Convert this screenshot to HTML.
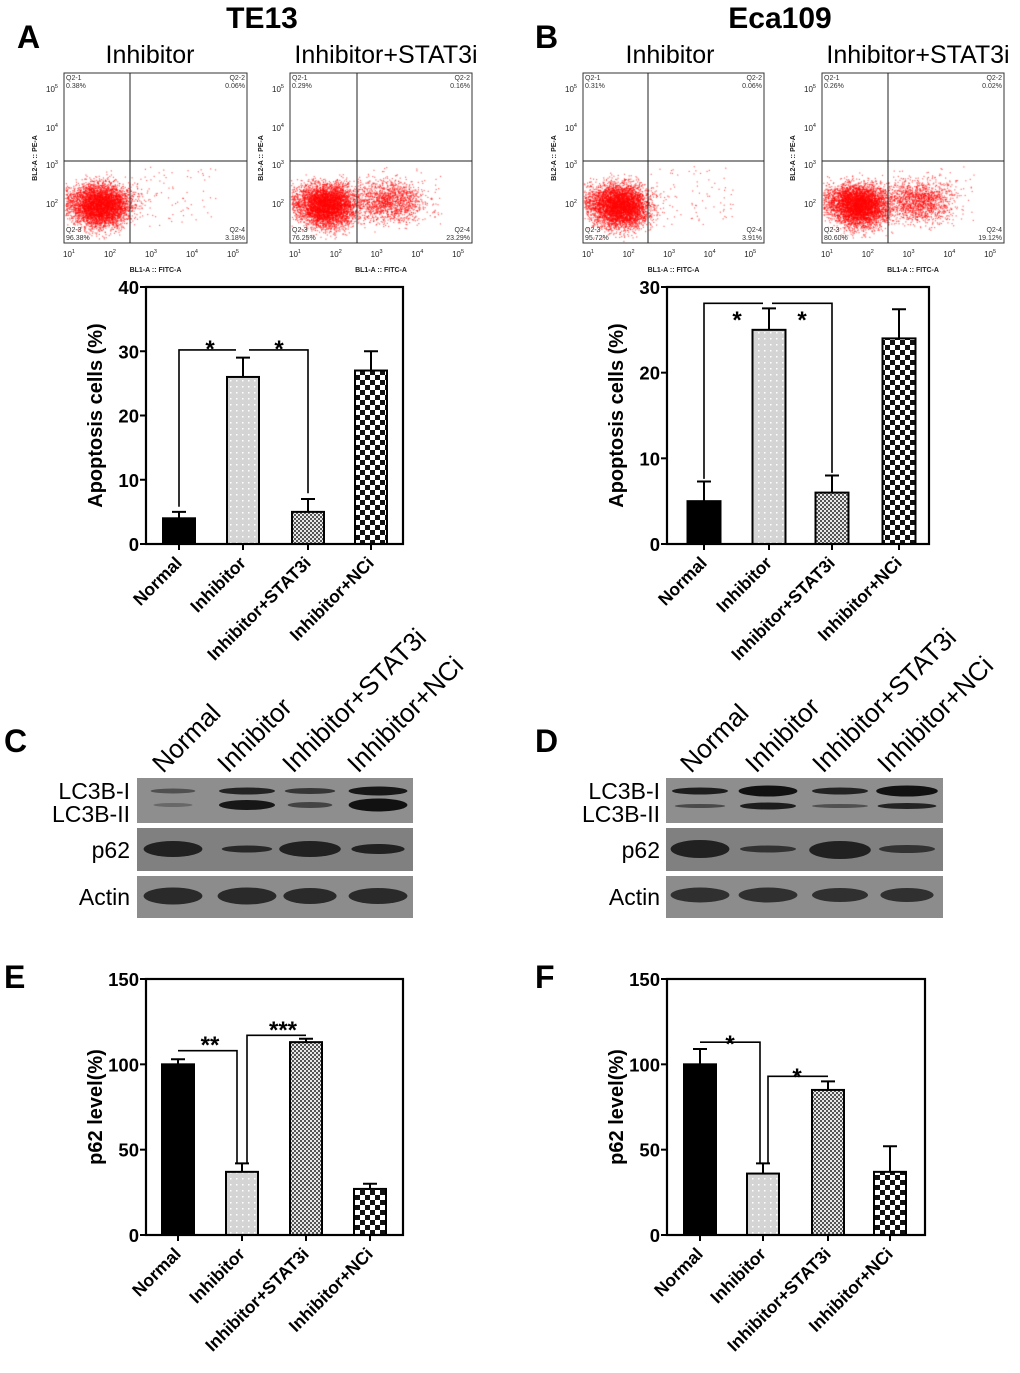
<!DOCTYPE html>
<html><head><meta charset="utf-8">
<style>
body{margin:0;background:#fff;}
#root{position:relative;width:1020px;height:1373px;overflow:hidden;font-family:"Liberation Sans",Arial,sans-serif;}
svg{position:absolute;left:0;top:0;}
canvas{position:absolute;}
</style></head>
<body>
<div id="root">
<canvas id="flowCanvas" width="1020" height="290" style="left:0;top:0"></canvas>
<svg id="fig" width="1020" height="1373" viewBox="0 0 1020 1373">
<defs>
<pattern id="pDots" width="6" height="6" patternUnits="userSpaceOnUse"><rect width="6" height="6" fill="#d4d4d4"/><rect x="2" y="2" width="1.5" height="1.5" fill="#fff"/></pattern>
<pattern id="pFine" width="4" height="4" patternUnits="userSpaceOnUse"><rect width="4" height="4" fill="#e8e8e8"/><rect width="2" height="2" fill="#555"/><rect x="2" y="2" width="2" height="2" fill="#555"/></pattern>
<pattern id="pCheck" width="10" height="10" patternUnits="userSpaceOnUse"><rect width="10" height="10" fill="#fff"/><rect width="5" height="5" fill="#111"/><rect x="5" y="5" width="5" height="5" fill="#111"/></pattern>
</defs>
</svg>
</div>
<script>
// ===== chart data =====
const categories = ["Normal","Inhibitor","Inhibitor+STAT3i","Inhibitor+NCi"];
const apoptosisTE13 = [4, 26, 5, 27];
const apoptosisTE13Err = [1, 3, 2, 3];
const apoptosisEca109 = [5, 25, 6, 24];
const apoptosisEca109Err = [2.3, 2.5, 2, 3.4];
const p62TE13 = [100, 37, 113, 27];
const p62TE13Err = [3, 5, 2, 3];
const p62Eca109 = [100, 36, 85, 37];
const p62Eca109Err = [9, 6, 5, 15];
const ticksApoA = ["0","10","20","30","40"];
const ticksApoB = ["0","10","20","30"];
const ticksP62 = ["0","50","100","150"];
const quadTE13Inh = ["Q2-1","0.38%","Q2-2","0.06%","Q2-3","96.38%","Q2-4","3.18%"];
const quadTE13Stat = ["Q2-1","0.29%","Q2-2","0.16%","Q2-3","76.25%","Q2-4","23.29%"];
const quadEcaInh = ["Q2-1","0.31%","Q2-2","0.06%","Q2-3","95.72%","Q2-4","3.91%"];
const quadEcaStat = ["Q2-1","0.26%","Q2-2","0.02%","Q2-3","80.60%","Q2-4","19.12%"];

const NS="http://www.w3.org/2000/svg";
const svg=document.getElementById('fig');
function mk(tag,attrs,parent,text){const e=document.createElementNS(NS,tag);for(const k in attrs)e.setAttribute(k,attrs[k]);if(text!==undefined)e.textContent=text;(parent||svg).appendChild(e);return e;}
const patterns=["#000","url(#pDots)","url(#pFine)","url(#pCheck)"];

function barChart(id,vals,errs,ticks,max,L,R,T,B,centers,bw,ytitle,brackets,stars){
  const g=mk('g',{},svg);
  const y=v=>B-(v/max)*(B-T);
  vals.forEach((v,i)=>{
    const r=mk('rect',{x:centers[i]-bw/2,y:y(v),width:bw,height:B-y(v),fill:patterns[i],stroke:'#000','stroke-width':2},g);
    
    
    const top=y(v+errs[i]);
    const e=mk('path',{d:`M${centers[i]} ${y(v)}V${top}M${centers[i]-7} ${top}H${centers[i]+7}`,stroke:'#000','stroke-width':2,fill:'none'},g);
    
    
  });
  const f=mk('rect',{x:L,y:T,width:R-L,height:B-T,fill:'none',stroke:'#000','stroke-width':2.2},g);
  
  
  ticks.forEach((t,i)=>{
    const v=+t;const yy=y(v);
    mk('line',{x1:L-6,x2:L,y1:yy,y2:yy,stroke:'#000','stroke-width':2},g);
    const tl=mk('text',{x:L-7,y:yy+7,'text-anchor':'end','font-size':18.5,'font-weight':'bold'},g,t);
    
    
  });
  categories.forEach((c,i)=>{
    mk('line',{x1:centers[i],x2:centers[i],y1:B,y2:B+6,stroke:'#000','stroke-width':2},g);
    const tx=centers[i]+4,ty=B+20;
    const cl=mk('text',{x:tx,y:ty,'text-anchor':'end','font-size':17.5,'font-weight':'bold',transform:`rotate(-45 ${tx} ${ty})`},g,c);
    
    
  });
  const cy=(T+B)/2;
  const yt=mk('text',{x:L-44,y:cy,'text-anchor':'middle','font-size':20,'font-weight':'bold',transform:`rotate(-90 ${L-44} ${cy})`},g,ytitle);
  
  
  brackets.forEach(b=>{
    const p=mk('path',{d:`M${b[0]} ${y(b[3])}V${y(b[2])}H${b[1]}V${y(b[4])}`,stroke:'#000','stroke-width':1.6,fill:'none'},g);
    
    
  });
  stars.forEach(s=>{
    const st=mk('text',{x:s[0],y:s[1],'text-anchor':'middle','font-size':24,'font-weight':'bold'},g,s[2]);
    
    
  });
}
barChart('apoptosis-chart-te13',apoptosisTE13,apoptosisTE13Err,ticksApoA,40,146,403,287,544,[179,243,308,371],32,'Apoptosis cells (%)',
  [[179,236,30.2,5.8,30.2],[249,308,30.2,30.2,7.9]],[[210,357,'*'],[279,357,'*']]);
barChart('apoptosis-chart-eca109',apoptosisEca109,apoptosisEca109Err,ticksApoB,30,667,929,287,544,[704,769,832,899],33,'Apoptosis cells (%)',
  [[704,763,28.1,7.6,28.1],[772,832,28.1,28.1,8.3]],[[737,328,'*'],[802,328,'*']]);
barChart('p62-chart-te13',p62TE13,p62TE13Err,ticksP62,150,146,403,979,1235,[178,242,306,370],32,'p62 level(%)',
  [[178,237,108,108,42],[247,306,117,42,117]],[[210,1053,'**'],[283,1038,'***']]);
barChart('p62-chart-eca109',p62Eca109,p62Eca109Err,ticksP62,150,667,925,979,1235,[700,763,828,890],32,'p62 level(%)',
  [[700,760,113,113,42],[768,828,93,42,93]],[[730,1052,'*'],[797,1085,'*']]);

function label(x,y,t,size,weight,name,anchor){const e=mk('text',{x:x,y:y,'font-size':size,'font-weight':weight,'text-anchor':anchor||'start',fill:'#000'},svg,t);return e;}
label(262,28,'TE13',30,'bold','title-te13','middle');
label(780,28,'Eca109',30,'bold','title-eca109','middle');
label(150,63,'Inhibitor',25,'normal','flow-title-inhibitor','middle');
label(386,63,'Inhibitor+STAT3i',25,'normal','flow-title-stat3i','middle');
label(670,63,'Inhibitor',25,'normal','flow-title-inhibitor-b','middle');
label(918,63,'Inhibitor+STAT3i',25,'normal','flow-title-stat3i-b','middle');
label(17,48,'A',32,'bold','panel-label-a');
label(535,48,'B',32,'bold','panel-label-b');
label(4,752,'C',32,'bold','panel-label-c');
label(535,752,'D',32,'bold','panel-label-d');
label(4,988,'E',32,'bold','panel-label-e');
label(535,988,'F',32,'bold','panel-label-f');

// ===== flow plots =====
const flowPlots=[
  {L:64,R:247,V:130,q:quadTE13Inh,second:0},
  {L:290,R:472,V:357,q:quadTE13Stat,second:1},
  {L:583,R:764,V:648,q:quadEcaInh,second:0},
  {L:822,R:1004,V:888,q:quadEcaStat,second:1}
];
const FT=73,FB=243,FH=161;
const ctx=document.getElementById('flowCanvas').getContext('2d');
let seed=7;function rnd(){seed=(seed*16807)%2147483647;return seed/2147483647;}
function gauss(){return (rnd()+rnd()+rnd()+rnd()-2)/0.58;}
flowPlots.forEach((p,k)=>{
  const g=mk('g',{},svg);
  const w=p.R-p.L, s=w/183;
  mk('rect',{x:p.L,y:FT,width:w,height:FB-FT,fill:'none',stroke:'#333','stroke-width':1},g);
  mk('line',{x1:p.V,x2:p.V,y1:FT,y2:FB,stroke:'#222','stroke-width':1},g);
  mk('line',{x1:p.L,x2:p.R,y1:FH,y2:FH,stroke:'#222','stroke-width':1},g);
  const q=p.q;
  mk('text',{x:p.L+2,y:FT+7,'font-size':7,fill:'#333'},g,q[0]);
  mk('text',{x:p.L+2,y:FT+15,'font-size':7,fill:'#333'},g,q[1]);
  mk('text',{x:p.R-2,y:FT+7,'font-size':7,fill:'#333','text-anchor':'end'},g,q[2]);
  mk('text',{x:p.R-2,y:FT+15,'font-size':7,fill:'#333','text-anchor':'end'},g,q[3]);
  mk('text',{x:p.L+2,y:FB-11,'font-size':7,fill:'#333'},g,q[4]);
  mk('text',{x:p.L+2,y:FB-3,'font-size':7,fill:'#333'},g,q[5]);
  mk('text',{x:p.R-2,y:FB-11,'font-size':7,fill:'#333','text-anchor':'end'},g,q[6]);
  mk('text',{x:p.R-2,y:FB-3,'font-size':7,fill:'#333','text-anchor':'end'},g,q[7]);
  [1,2,3,4,5].forEach((d,i)=>{const x=p.L+5+i*41*s;const t=mk('text',{x:x,y:FB+14,'font-size':8,fill:'#222','text-anchor':'middle'},g,'10');mk('tspan',{dy:-4,'font-size':5.5},t,String(d));});
  [[5,89],[4,128],[3,165],[2,204]].forEach(a=>{const t=mk('text',{x:p.L-12,y:a[1]+3,'font-size':8,fill:'#222','text-anchor':'middle'},g,'10');mk('tspan',{dy:-4,'font-size':5.5},t,String(a[0]));});
  mk('text',{x:(p.L+p.R)/2,y:FB+29,'font-size':7,'font-weight':'bold',fill:'#222','text-anchor':'middle'},g,'BL1-A :: FITC-A');
  mk('text',{x:p.L-27,y:(FT+FB)/2,'font-size':7,'font-weight':'bold',fill:'#222','text-anchor':'middle',transform:`rotate(-90 ${p.L-27} ${(FT+FB)/2})`},g,'BL2-A :: PE-A');
  ctx.fillStyle='rgba(255,0,0,0.6)';
  const cx=p.L+38*s, cy=206;
  for(let i=0;i<5000;i++){
    let x=cx+gauss()*13*s, y=cy+gauss()*11;
    if(rnd()<0.3){x=cx-12+gauss()*22*s;y=cy-4+gauss()*9;}
    if(x<p.L+1||x>p.R-1||y>FB-1||y<FT)continue;
    ctx.fillRect(x,y,1.2,1.2);
  }
  if(p.second){
    const c2=p.V+32*s;
    for(let i=0;i<1400;i++){const x=c2+gauss()*17*s,y=201+gauss()*10;if(x>p.R-1||y>FB-1)continue;ctx.fillRect(x,y,1.2,1.2);}
  }
  for(let i=0;i<80;i++){const x=p.V+rnd()*(p.R-p.V-30),y=FH+5+rnd()*60;ctx.fillRect(x,y,1.2,1.2);}
});

// ===== western blots =====
function blot(L,R,lanes,bands,labelX,laneLabelX,name){
  const g=mk('g',{},svg);
  const rows=[[778,823],[828,871],[876,918]];
  const bg=['#8e8e8e','#808080','#8c8c8c'];
  rows.forEach((r,i)=>mk('rect',{x:L,y:r[0],width:R-L,height:r[1]-r[0],fill:bg[i]},g));
  bands.forEach(b=>{
    mk('ellipse',{cx:lanes[b[0]],cy:b[1],rx:28*b[3],ry:b[2]/2,fill:'#111','fill-opacity':b[4]},g);
  });
  const lab=(t,y,n)=>{const e=mk('text',{x:labelX,y:y,'font-size':23,'text-anchor':'end'},g,t);};
  lab('LC3B-I',799,'label-lc3b-i');lab('LC3B-II',822,'label-lc3b-ii');lab('p62',858,'label-p62');lab('Actin',905,'label-actin');
  categories.forEach((c,i)=>{const x=laneLabelX[i],y=774;const t=mk('text',{x:x,y:y,'font-size':26,transform:`rotate(-45 ${x} ${y})`},g,c);});
}
blot(137,413,[173,247,310,378],[
 [0,791,5,0.8,0.5],[0,805,4,0.7,0.3],[1,791,7,1,0.85],[1,805,10,1,0.95],[2,791,6,0.9,0.7],[2,805,6,0.8,0.6],[3,791,9,1.05,0.95],[3,805,13,1.05,1],
 [0,849,16,1.05,0.85],[1,849,7,0.9,0.8],[2,849,16,1.1,0.85],[3,849,10,0.95,0.85],
 [0,896,17,1.05,0.8],[1,896,17,1.05,0.8],[2,896,16,0.95,0.8],[3,896,16,1.05,0.8]
],130,[163,228,293,358],'western-blot-te13');
blot(666,943,[700,768,840,907],[
 [0,791,7,1,0.9],[0,806,4,0.9,0.55],[1,791,11,1.05,1],[1,806,7,1,0.9],[2,791,7,1,0.85],[2,806,4,1,0.5],[3,791,11,1.1,1],[3,806,6,1.05,0.85],
 [0,849,18,1.05,0.85],[1,849,7,1,0.7],[2,850,18,1.1,0.85],[3,849,8,1,0.7],
 [0,895,15,1.05,0.75],[1,895,15,1.05,0.75],[2,895,14,1,0.75],[3,895,14,0.95,0.75]
],660,[691,756,823,888],'western-blot-eca109');
</script>
</body></html>
